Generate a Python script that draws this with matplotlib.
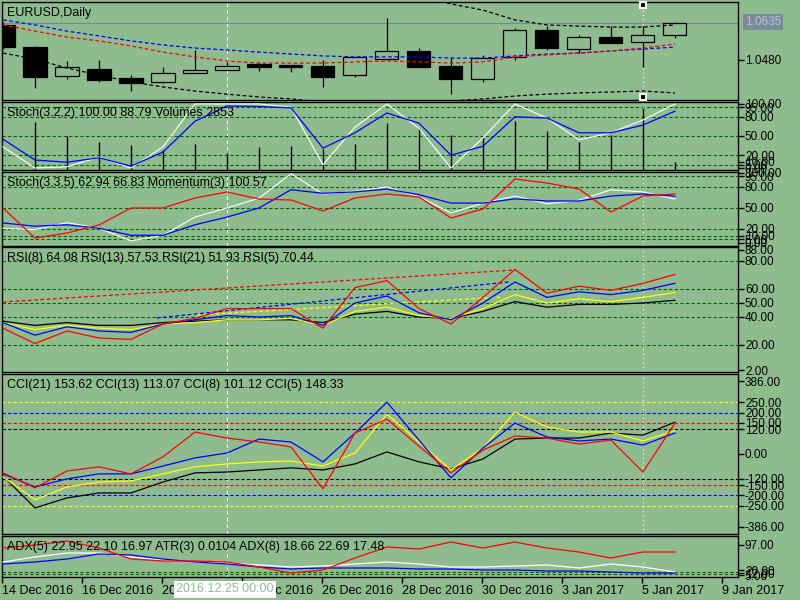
import matplotlib
matplotlib.use("Agg")
import matplotlib.pyplot as plt
import matplotlib.transforms as mtransforms
import numpy as np

plt.rcParams['font.family'] = ['Liberation Sans', 'DejaVu Sans']

W, H = 800, 600
BG = "#8fbc8f"
LEVEL = "#006400"

bars = np.arange(22)

# candles
opens = [1.0627, 1.0534, 1.0413, 1.0442, 1.0405, 1.0388, 1.0426, 1.0438, 1.0463, 1.0459, 1.0455,
         1.0417, 1.0484, 1.0518, 1.0455, 1.0400, 1.0493, 1.0606, 1.0526, 1.0576, 1.0555, 1.0585]
highs = [1.0640, 1.0539, 1.0476, 1.0480, 1.0417, 1.0451, 1.0522, 1.0472, 1.0472, 1.0459, 1.0480,
         1.0493, 1.0656, 1.0530, 1.0493, 1.0501, 1.0614, 1.0622, 1.0585, 1.0622, 1.0622, 1.0639]
lows = [1.0525, 1.0363, 1.0400, 1.0388, 1.0350, 1.0384, 1.0426, 1.0438, 1.0434, 1.0430, 1.0367,
        1.0409, 1.0484, 1.0451, 1.0337, 1.0388, 1.0480, 1.0522, 1.0509, 1.0551, 1.0451, 1.0572]
closes = [1.0534, 1.0409, 1.0451, 1.0396, 1.0384, 1.0426, 1.0438, 1.0455, 1.0451, 1.0451, 1.0409,
          1.0493, 1.0518, 1.0451, 1.0400, 1.0488, 1.0606, 1.0530, 1.0576, 1.0551, 1.0585, 1.0635]
bid = 1.0635

ma_blue = [1.0648, 1.0627, 1.0601, 1.0581, 1.0560, 1.0543, 1.0530, 1.0522, 1.0513, 1.0505, 1.0497,
           1.0493, 1.0493, 1.0493, 1.0488, 1.0488, 1.0497, 1.0505, 1.0509, 1.0518, 1.0526, 1.0534]
ma_red = [1.0627, 1.0601, 1.0576, 1.0560, 1.0539, 1.0513, 1.0493, 1.0476, 1.0467, 1.0467, 1.0467,
          1.0472, 1.0476, 1.0472, 1.0467, 1.0472, 1.0493, 1.0501, 1.0509, 1.0518, 1.0530, 1.0547]
band_low = [1.0509, 1.0484, 1.0446, 1.0417, 1.0388, 1.0367, 1.0350, 1.0337, 1.0325, 1.0317, 1.0304,
            1.0296, 1.0291, 1.0296, 1.0308, 1.0317, 1.0329, 1.0337, 1.0342, 1.0346, 1.0350, 1.0342]
band_up = [np.nan] * 13 + [1.0744, 1.0715, 1.0689, 1.0648, 1.0627, 1.0622, 1.0618, 1.0618, 1.0627]

# Stoch(3,2,2) + volumes
stoch1_main = [33, 0, 2, 17, 0, 33, 100, 100, 100, 95, 5, 64, 100, 62, 0, 47, 100, 78, 44, 55, 75, 100]
stoch1_sig = [45, 12.5, 9, 16, 3, 25, 73, 97, 96, 94, 31, 55, 86, 70, 20, 34, 80, 78, 55, 55, 67, 88.79]
volumes = [np.nan, 17100, 12100, 10000, 8900, 7100, 9300, 6100, 8200, 8600, 7500, 9300, 16800,
           15000, 12500, 11800, 17500, 13900, 10000, 12500, 22100, 2853]

# Stoch(3,3,5) + momentum
stoch2_main = [21, 19, 29, 21, 3, 11, 37, 50, 64, 99, 70, 74, 80, 66, 43, 57, 67, 56, 61, 76, 73, 62.94]
stoch2_sig = [28.6, 24, 26, 21, 11, 11, 26, 37, 50, 76, 71, 73, 77, 69, 57, 57, 63, 60, 60, 67, 70, 66.83]
momentum = [100.01, 98.81, 99.01, 99.33, 100.01, 100.01, 100.41, 100.65, 100.37, 100.33, 99.89,
            100.41, 100.57, 100.45, 99.61, 99.97, 101.17, 101.01, 100.77, 99.85, 100.49, 100.57]

# RSI
rsi5 = [32, 21, 30, 25, 24, 35, 39, 46, 46, 46, 32, 61, 66, 46, 35, 54, 74, 57, 62, 59, 64, 70.44]
rsi8 = [36, 27, 33, 30, 29, 35, 38, 41, 40, 41, 34, 50, 55, 43, 38, 50, 65, 54, 58, 56, 59, 64.08]
rsi13 = [36, 31, 34, 32, 31, 35, 36, 38, 38, 39, 34, 44, 47, 41, 39, 46, 56, 50, 53, 51, 54, 57.53]
rsi21 = [37, 34, 36, 34, 34, 36, 37, 38, 38, 38, 36, 42, 44, 40, 39, 44, 51, 47, 49, 49, 50, 51.93]
trend_red = ([0, 16], [50.7, 73.6])
trend_blue = ([4.8, 15.8], [39.3, 65.0])
trend_yellow = ([6.06, 15.6], [41.4, 54.3])

# CCI
cci21 = [-106, -260, -212, -188, -188, -135, -91, -87, -77, -67, -77, -48, 10, -38, -72, -24,
         72, 77, 77, 101, 91, 153.62]
cci13 = [-110, -221, -159, -135, -130, -96, -62, -48, -38, -34, -58, 5, 192, 58, -77, 29,
         202, 130, 106, 106, 63, 113.07]
cci8 = [-96, -159, -120, -96, -96, -58, -19, 5, 72, 58, -38, 101, 250, 67, -115, 29,
        149, 82, 63, 72, 43, 101.12]
cci5 = [-91, -163, -82, -62, -96, -14, 106, 77, 58, 34, -168, 101, 168, 38, -91, 19,
        87, 77, 48, 67, -87, 148.33]
cci_levels = [(250, "yellow"), (200, "blue"), (150, "red"), (120, "black")]

# ADX / ATR panel (panel units)
adx_red = [87, 96, 108, 87, 54, 48, 48, 45, 30, 12, 21, 57, 90, 84, 105, 87, 105, 87, 75, 57, 75, 75]
adx_white = [45, 60, 72, 72, 60, 51, 45, 42, 36, 30, 33, 39, 45, 39, 30, 30, 33, 36, 27, 39, 30, 15]
adx_blue = [39, 45, 54, 69, 66, 54, 45, 39, 30, 24, 27, 27, 27, 24, 24, 21, 21, 18, 18, 15, 12, 12]
atr_line = [np.nan] * 5 + [21] * 17

date_labels = ["14 Dec 2016", "16 Dec 2016", "20 Dec 2016", "22 Dec 2016", "26 Dec 2016",
               "28 Dec 2016", "30 Dec 2016", "3 Jan 2017", "5 Jan 2017", "9 Jan 2017"]
stoch_ticks = [100, 95, 80, 50, 20, 10, 5, 0]
cross_bar = 7
sel_bar = 20

XL = (-0.031, 22.97)
FS = 8.5


def panel(top, bottom):
    ax = fig.add_axes([2 / W, 1 - bottom / H, 736 / W, (bottom - top) / H])
    ax.set_facecolor(BG)
    ax.set_xlim(*XL)
    ax.set_xticks([])
    for s in ax.spines.values():
        s.set_color("black")
        s.set_linewidth(1)
    ax.axvline(cross_bar, color="white", lw=0.8, ls=(0, (3, 3)), zorder=1)
    return ax


def right_ticks(ax, vals, labels):
    ax.set_yticks(vals, labels)
    ax.yaxis.tick_right()
    ax.tick_params(axis="y", direction="out", length=4, width=1, pad=1, labelsize=FS,
                   left=False, labelleft=False, right=True, labelright=True)


def overlay(ax, lo, hi):
    tw = fig.add_axes(ax.get_position(), sharex=ax)
    tw.set_ylim(lo, hi)
    tw.set_xlim(*XL)
    tw.set_xticks([])
    tw.set_yticks([])
    tw.axis("off")
    return tw


def title(top, s):
    fig.text(7 / W, 1 - (top + 11) / H, s, fontsize=9, va="center", ha="left")


def levels(ax, vals, color=LEVEL):
    for v in vals:
        ax.axhline(v, color=color, lw=0.8, ls=(0, (3, 2)), zorder=1)


fig = plt.figure(figsize=(8, 6), dpi=100, facecolor=BG)

# main price panel
ax0 = panel(2, 100)
ax0.set_ylim(1.03124, 1.07230)
ax0.axhline(bid, color="#778899", lw=0.8, zorder=1)
ax0.vlines(bars, lows, highs, color="black", lw=0.9, zorder=2)
o = np.array(opens)
c = np.array(closes)
up = c >= o
ax0.bar(bars[up], (c - o)[up], bottom=o[up], width=0.72, color=BG, edgecolor="black",
        linewidth=0.9, zorder=3)
ax0.bar(bars[~up], (c - o)[~up], bottom=o[~up], width=0.72, color="black", edgecolor="black",
        linewidth=0.9, zorder=3)
ax0.plot(bars, ma_blue, color="blue", lw=0.9, ls=(0, (3, 2)), zorder=4)
ax0.plot(bars, ma_red, color="red", lw=0.9, ls=(0, (3, 2)), zorder=4)
ax0.plot(bars, band_low, color="black", lw=0.9, ls=(0, (3, 2)), zorder=4)
ax0.plot(bars, band_up, color="black", lw=0.9, ls=(0, (3, 2)), zorder=4)
right_ticks(ax0, [1.0480], ["1.0480"])
ax0.axvline(sel_bar, color="white", lw=0.8, ls=(0, (1, 3)), zorder=1)
tr = mtransforms.blended_transform_factory(ax0.transData, ax0.transAxes)
ax0.plot([sel_bar, sel_bar], [0.97, 0.035], ls="none", marker="s", ms=4, mfc="black",
         mec="white", mew=1.5, transform=tr, clip_on=False, zorder=6)
title(2, "EURUSD,Daily")
fig.text(763 / W, 1 - 22 / H, "1.0635", fontsize=FS, color="#b8c6d4", ha="center", va="center",
         bbox=dict(boxstyle="square,pad=0.15", fc="#7a8b9c", ec="none"))

# Stoch(3,2,2) + volumes
ax1 = panel(102, 170)
ax1.set_ylim(-3.1, 103.1)
levels(ax1, [95, 80, 50, 20, 5])
ax1v = overlay(ax1, 0, 24276)
vb = [b for b, v in zip(bars, volumes) if not np.isnan(v)]
vv = [v for v in volumes if not np.isnan(v)]
ax1v.vlines(vb, 0, vv, color="black", lw=1.0, zorder=2)
ax1s = overlay(ax1, -3.1, 103.1)
ax1s.plot(bars, stoch1_main, color="white", lw=0.8, zorder=3)
ax1s.plot(bars, stoch1_sig, color="blue", lw=0.9, zorder=3)
ax1.axvline(sel_bar, color="white", lw=0.8, ls=(0, (1, 3)), zorder=1)
right_ticks(ax1, stoch_ticks, ["%.2f" % v for v in stoch_ticks])
title(102, "Stoch(3,2,2) 100.00 88.79 Volumes 2853")

# Stoch(3,3,5) + Momentum
ax2 = panel(172, 246)
ax2.set_ylim(-4.3, 101.4)
levels(ax2, [95, 80, 50, 20, 10, 5])
ax2.plot(bars, stoch2_main, color="white", lw=0.8, zorder=3)
ax2.plot(bars, stoch2_sig, color="blue", lw=0.9, zorder=3)
ax2m = overlay(ax2, 98.49, 101.45)
ax2m.plot(bars, momentum, color="red", lw=0.9, zorder=3)
ax2.axvline(sel_bar, color="white", lw=0.8, ls=(0, (1, 3)), zorder=1)
right_ticks(ax2, stoch_ticks, ["%.2f" % v for v in stoch_ticks])
title(172, "Stoch(3,3,5) 62.94 66.83 Momentum(3) 100.57")

# RSI
ax3 = panel(247, 372)
ax3.set_ylim(0.7, 90)
levels(ax3, [80, 60, 50, 40, 20])
ax3.plot(*trend_red, color="red", lw=0.9, ls=(0, (3, 2)), zorder=3)
ax3.plot(*trend_blue, color="blue", lw=0.9, ls=(0, (3, 2)), zorder=3)
ax3.plot(*trend_yellow, color="yellow", lw=0.9, ls=(0, (3, 2)), zorder=3)
ax3.plot(bars, rsi21, color="black", lw=0.9, zorder=3)
ax3.plot(bars, rsi13, color="yellow", lw=0.9, zorder=3)
ax3.plot(bars, rsi8, color="blue", lw=0.9, zorder=3)
ax3.plot(bars, rsi5, color="red", lw=0.9, zorder=3)
right_ticks(ax3, [88, 80, 60, 50, 40, 20, 2],
            ["88.00", "80.00", "60.00", "50.00", "40.00", "20.00", "2.00"])
ax3.axvline(sel_bar, color="white", lw=0.8, ls=(0, (1, 3)), zorder=1)
title(247, "RSI(8) 64.08 RSI(13) 57.53 RSI(21) 51.93 RSI(5) 70.44")

# CCI
ax4 = panel(374, 534)
ax4.set_ylim(-386, 386)
for v, col in cci_levels:
    levels(ax4, [v, -v], color=col)
ax4.plot(bars, cci21, color="black", lw=0.9, zorder=3)
ax4.plot(bars, cci13, color="yellow", lw=0.9, zorder=3)
ax4.plot(bars, cci8, color="blue", lw=0.9, zorder=3)
ax4.plot(bars, cci5, color="red", lw=0.9, zorder=3)
cci_ticks = [351, 250, 200, 150, 120, 0, -120, -150, -200, -250, -351]
cci_text = ["386.00", "250.00", "200.00", "150.00", "120.00", "0.00", "-120.00", "-150.00",
            "-200.00", "-250.00", "-386.00"]
right_ticks(ax4, cci_ticks, cci_text)
ax4.axvline(sel_bar, color="white", lw=0.8, ls=(0, (1, 3)), zorder=1)
title(374, "CCI(21) 153.62 CCI(13) 113.07 CCI(8) 101.12 CCI(5) 148.33")

# ADX / ATR
ax5 = panel(536, 577)
ax5.set_ylim(0, 123)
levels(ax5, [15, 9])
ax5.plot(bars, atr_line, color="#9acd32", lw=0.9, ls=(0, (3, 2)), zorder=2)
ax5.plot(bars, adx_white, color="white", lw=0.9, zorder=3)
ax5.plot(bars, adx_blue, color="blue", lw=0.9, zorder=3)
ax5.plot(bars, adx_red, color="red", lw=0.9, zorder=3)
right_ticks(ax5, [97, 20, 12, 5], ["97.00", "20.00", "12.00", "5.00"])
ax5.axvline(sel_bar, ymax=0.42, color="white", lw=0.8, ls=(0, (1, 3)), zorder=1)
title(536, "ADX(5) 22.95 22.10 16.97 ATR(3) 0.0104 ADX(8) 18.66 22.69 17.48")

# date axis
xt = np.arange(len(date_labels)) * 2.5 - 0.03
ax5.set_xticks(xt, date_labels)
ax5.tick_params(axis="x", direction="out", length=4, width=1, pad=2, labelsize=9)
for lab in ax5.get_xticklabels():
    lab.set_horizontalalignment("left")

fig.text(176 / W, 1 - 589 / H, "2016.12.25 00:00", fontsize=9, color=BG, ha="left",
         va="center", bbox=dict(boxstyle="square,pad=0.2", fc="white", ec="none"), zorder=10)

fig.savefig("out.png", dpi=100, facecolor=BG)
